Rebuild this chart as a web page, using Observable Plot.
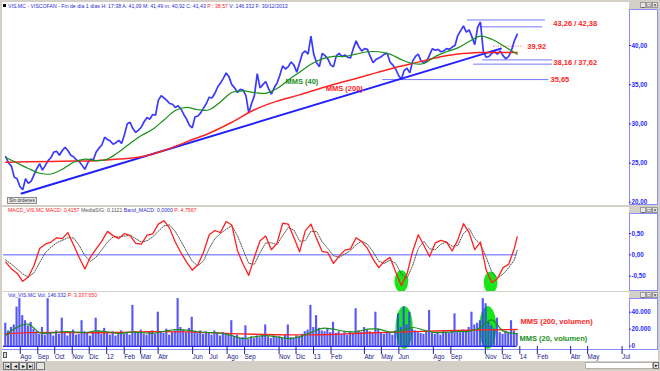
<!DOCTYPE html>
<html><head><meta charset="utf-8">
<script src="https://cdn.jsdelivr.net/npm/d3@7"></script>
<script src="https://cdn.jsdelivr.net/npm/@observablehq/plot@0.6"></script>
<style>
body{margin:0;background:#d4d0c8;}
#c{position:relative;width:660px;height:371px;background:#d4d0c8;overflow:hidden;font-family:'Liberation Sans',Arial,sans-serif;}
#c svg{position:absolute;left:0;}
.t{position:absolute;white-space:nowrap;font-size:5.2px;line-height:6px;}
</style></head><body><div id="c"></div>
<script>
// ---------- DATA ----------
// price closes, one value every 5 calendar days, ending 30/12/2013
const priceClose = [
25.8,25.0,24.6,23.2,23.0,22.0,21.6,23.0,22.4,22.7,
23.5,24.3,24.9,24.1,24.7,25.3,25.7,26.4,26.5,26.0,
26.6,27.0,26.6,26.0,25.8,25.4,25.2,24.7,24.2,25.0,
25.5,25.4,26.4,26.9,27.3,28.3,28.0,27.8,27.4,27.6,
27.9,27.5,28.6,30.0,30.2,29.4,28.9,29.2,29.6,30.3,
30.8,30.6,31.2,31.1,33.0,33.6,33.3,33.0,32.6,32.5,
32.1,32.3,31.9,31.2,30.6,29.8,29.5,30.9,31.0,31.4,
32.0,32.6,33.4,33.3,33.9,34.7,35.2,35.8,36.5,36.0,
35.0,34.6,34.0,34.4,34.3,33.6,31.4,32.6,33.6,36.4,
34.6,35.0,35.4,34.5,33.8,34.6,35.2,36.2,37.4,37.0,
37.3,37.9,37.5,36.6,37.8,39.0,39.3,38.9,41.2,38.9,
37.8,37.3,39.0,38.7,38.3,37.5,37.3,38.7,39.0,38.6,
38.8,38.5,38.4,39.6,40.6,39.8,39.3,39.6,39.5,38.6,
37.8,38.2,38.4,38.6,38.9,39.0,37.9,37.5,37.0,36.2,
35.7,36.8,37.1,36.5,38.0,38.6,38.9,38.0,37.8,38.0,
38.8,39.6,39.4,39.5,39.2,39.3,39.6,39.5,39.8,40.0,
41.3,41.9,42.5,41.7,42.0,41.1,40.1,42.3,43.0,39.3,
38.5,38.6,39.0,39.2,38.9,39.3,38.7,38.3,38.6,39.4,40.6,41.43];
// MMS(40) every 4th point, MMS(200) every 8th point
const mms40 = [25.7,25.0,24.3,23.7,23.6,24.2,25.1,25.5,25.3,25.5,
26.4,27.5,28.5,29.3,30.5,31.7,32.1,31.8,31.8,32.8,
34.0,34.2,34.0,33.9,34.5,35.6,36.6,37.6,38.3,38.6,
38.6,38.9,39.2,39.2,38.9,38.2,37.7,37.7,38.6,39.2,
39.7,40.5,41.2,40.8,40.0,39.1,38.9];
const mms200 = [25.1,25.15,25.2,25.25,25.3,25.5,25.8,26.6,27.7,28.8,30.2,31.8,
32.9,33.7,34.6,35.4,36.2,37.0,37.7,38.4,38.9,39.1,39.1,39.1];
// MACD and signal, every 2nd point
const macdValues = [-0.17,-0.33,-0.43,-0.62,-0.52,-0.25,0.15,0.25,0.30,0.40,
0.38,0.52,0.23,-0.06,-0.33,-0.05,0.14,0.32,0.55,0.45,
0.38,0.50,0.45,0.27,0.25,0.46,0.49,0.72,0.80,0.62,
0.30,0.05,-0.17,-0.36,-0.23,0.06,0.47,0.57,0.52,0.78,
0.70,0.10,-0.22,-0.48,-0.05,0.33,0.44,0.12,0.27,0.74,
0.72,0.40,0.07,0.56,0.72,0.38,0.08,0.05,-0.20,-0.03,
0.11,0.14,0.40,0.31,0.15,-0.10,-0.30,-0.15,-0.06,-0.40,
-0.72,-0.45,0.08,0.47,0.22,-0.04,0.28,0.34,0.30,0.09,
0.35,0.73,0.52,0.12,0.30,-0.35,-0.65,-0.56,-0.30,-0.22,
0.15,0.42];
const signalValues = [-0.12,-0.22,-0.33,-0.45,-0.52,-0.42,-0.18,0.05,0.18,0.28,
0.34,0.40,0.40,0.22,-0.02,-0.15,-0.05,0.12,0.30,0.42,
0.42,0.44,0.46,0.38,0.30,0.33,0.42,0.55,0.68,0.70,
0.55,0.32,0.08,-0.15,-0.26,-0.14,0.15,0.38,0.50,0.60,
0.68,0.45,0.12,-0.20,-0.22,0.05,0.28,0.28,0.24,0.45,
0.64,0.58,0.32,0.33,0.55,0.55,0.30,0.15,-0.02,-0.06,
0.02,0.10,0.24,0.32,0.25,0.07,-0.15,-0.20,-0.12,-0.20,
-0.45,-0.55,-0.25,0.15,0.32,0.14,0.12,0.25,0.30,0.20,
0.22,0.50,0.62,0.38,0.25,-0.05,-0.40,-0.55,-0.45,-0.30,
-0.12,0.11];
// volume (thousands), one value every 5 days
const volumeK = [
27,18,22,25,46,56,36,30,24,28,
20,17,14,22,13,56,15,12,18,14,
33,16,12,15,19,13,14,30,17,15,
12,16,33,18,14,21,16,13,17,12,
15,18,14,16,13,48,17,15,19,14,
13,16,18,14,40,17,15,20,13,16,
18,56,22,19,16,21,34,17,15,18,
14,17,16,13,18,15,12,16,14,13,
30,11,13,9,10,24,8,11,9,12,
10,13,25,11,9,12,10,11,9,13,
25,10,9,12,11,14,17,19,48,22,
36,21,18,17,20,16,28,15,17,14,
16,13,17,15,44,18,16,22,19,17,
15,40,20,16,14,17,15,13,18,38,
22,46,25,40,20,18,16,15,14,17,
42,16,14,15,13,17,16,15,18,38,
17,16,19,18,22,40,25,27,30,56,
50,28,24,20,33,16,14,17,15,30,18,15];
const volMms20K = [12.6,22.4,26,16,15.5,17,17,16,18,17,
15,16.5,16,15,17.5,19.5,19,17,16,15.5,
12.5,9,11,12.5,11,9,11,16,21,20,
17.5,17,20,20,16.5,18,22,19,16,16.5,
17.5,17.5,22,31,18,15,14.8];
const volMms200K = [14.6,16,16.3,16,15.8,16.2,16.8,17.2,16.8,16,14.8,14,
13.5,13.3,13.4,14.5,15.5,16.3,17.2,17.8,18.4,19,19.4,19.6];
// annotations
const levelValues = [43.26, 42.38, 38.16, 37.62, 35.65];
const levelFrom = ["2013-10-03","2013-10-26","2013-10-30","2013-10-14","2013-05-06"];
const levelTo = ["2014-02-18","2014-02-13","2014-03-03","2014-03-03","2014-02-24"];
const pivotValue = 39.92, pivotFrom = "2013-11-18", pivotTo = "2014-01-10";
const levelLabels = ["43,26 / 42,38","39,92","38,16 / 37,62","35,65"];
const levelLabelDates = ["2014-03-04","2014-01-17","2014-03-04","2014-02-27"];
const levelLabelValues = [42.85, 39.92, 37.85, 35.65];
const trendDates = ["2011-08-06","2013-12-01"];
const trendValues = [21.1, 39.6];
const maLabelTexts = ["MMS (40)","MMS (200)"];
const maLabelDates = ["2012-12-14","2013-02-27"];
const maLabelValues = [35.4, 34.55];
const macdMarkDates = ["2013-06-08","2013-11-13"];
const macdMarkValues = [-0.62, -0.65];
const volMarkDates = ["2013-06-13","2013-11-08"];
const volMarkValues = [22000, 22000];
const volLabelTexts = ["MMS (200, volumen)","MMS (20, volumen)"];
const volLabelDates = ["2014-01-05","2014-01-03"];
const volLabelValues = [29000, 9000];
const priceTicks = [20,25,30,35,40];
const macdTicks = [-0.5,0,0.5];
const volTicks = [0,20000,40000];
const monthTickDates = ["2011-08-01","2011-09-01","2011-10-01","2011-11-01","2011-12-01","2012-01-01","2012-02-01","2012-03-01","2012-04-01","2012-06-01","2012-07-01","2012-08-01","2012-09-01","2012-11-01","2012-12-01","2013-01-01","2013-02-01","2013-04-01","2013-05-01","2013-06-01","2013-08-01","2013-09-01","2013-11-01","2013-12-01","2014-01-01","2014-02-01","2014-04-01","2014-05-01","2014-07-01"];
const monthTickLabels = ["Ago","Sep","Oct","Nov","Dic","12","Feb","Mar","Abr","Jun","Jul","Ago","Sep","Nov","Dic","13","Feb","Abr","May","Jun","Ago","Sep","Nov","Dic","14","Feb","Abr","May","Jul"];

// ---------- BUILD ----------
const FONT = "'Liberation Sans', Arial, sans-serif";
const DAY = 864e5;
const N = priceClose.length;
const endDate = Date.UTC(2013, 11, 30);
const dateAt = i => new Date(endDate - (N - 1 - Math.min(i, N - 1)) * 5 * DAY);
const sparse = (vals, step, scale = 1) => vals.map((v, k) => ({date: dateAt(k * step), v: v * scale}));
const xDomain = [new Date("2011-07-05"), new Date("2014-07-15")];
const D = s => new Date(s);

const price = priceClose.map((v, i) => ({date: dateAt(i), v}));
const ma40 = sparse(mms40, 4), ma200 = sparse(mms200, 8);
const macd = sparse(macdValues, 2), signal = sparse(signalValues, 2);
const vol = volumeK.map((v, i) => ({date: dateAt(i), v: v * 1000}));
const vma20 = sparse(volMms20K, 4, 1000), vma200 = sparse(volMms200K, 8, 1000);
const levels = levelValues.map((v, i) => ({v, from: D(levelFrom[i]), to: D(levelTo[i])}));
const pivot = [{v: pivotValue, from: D(pivotFrom), to: D(pivotTo)}];
const lvlLabels = levelLabels.map((t, i) => ({t, date: D(levelLabelDates[i]), v: levelLabelValues[i]}));
const trend = trendDates.map((d, i) => ({date: D(d), v: trendValues[i]}));
const maLabels = maLabelTexts.map((t, i) => ({t, date: D(maLabelDates[i]), v: maLabelValues[i]}));
const macdMarks = macdMarkDates.map((d, i) => ({date: D(d), v: macdMarkValues[i]}));
const volMarks = volMarkDates.map((d, i) => ({date: D(d), v: volMarkValues[i]}));
const volLabels = volLabelTexts.map((t, i) => ({t, date: D(volLabelDates[i]), v: volLabelValues[i]}));
const band = [{v: 0, from: xDomain[0], to: dateAt(N - 1)}];
const monthMap = new Map(monthTickDates.map((d, i) => [+D(d), monthTickLabels[i]]));

function ellipse(ratio) {
  return {draw(ctx, size) {
    const ry = Math.sqrt(size / Math.PI), rx = ry * ratio, k = 0.5523;
    ctx.moveTo(rx, 0);
    ctx.bezierCurveTo(rx, ry * k, rx * k, ry, 0, ry);
    ctx.bezierCurveTo(-rx * k, ry, -rx, ry * k, -rx, 0);
    ctx.bezierCurveTo(-rx, -ry * k, -rx * k, -ry, 0, -ry);
    ctx.bezierCurveTo(rx * k, -ry, rx, -ry * k, rx, 0);
    ctx.closePath();
  }};
}

const root = document.getElementById("c");
function box(l, t, w, h, css = "") {
  const d = document.createElement("div");
  d.style.cssText = `position:absolute;left:${l}px;top:${t}px;width:${w}px;height:${h}px;box-sizing:border-box;${css}`;
  root.appendChild(d); return d;
}
function text(l, t, parts, css = "") {
  const d = document.createElement("div");
  d.className = "t";
  d.style.cssText = `left:${l}px;top:${t}px;${css}`;
  d.innerHTML = parts.map(([s, c]) => `<span style="color:${c}">${s}</span>`).join("");
  root.appendChild(d); return d;
}
function winIcons(top) {
  ["_", "\u25A1", "\u00D7"].forEach((g, i) => {
    const b = box(640 + i * 6, top, 6, 6, "background:#e6e6e6;border:1px solid #9a9a9a;font-size:5px;line-height:4px;text-align:center;color:#000;");
    b.textContent = g;
  });
}
const AXBOX = "background:#fff;border:1px solid #8c8cff;";
// frames
box(2, 2, 627, 203, "background:#fff");
box(629, 9, 29, 196, AXBOX);
box(2, 207, 627, 84, "background:#fff");
box(629, 213, 29, 78, AXBOX);
box(2, 292, 627, 58, "background:#fff");
box(629, 298, 29, 52, AXBOX);
box(2, 350, 656, 11, "background:#fff");
box(2, 349, 627, 1, "background:#8c8cff");
winIcons(2); winIcons(207); winIcons(292);
box(3, 4, 3, 3, "background:#000");
text(8, 3, [["VIS.MC - VISCOFAN - Fin de día 1 días H: 17:38 A: 41,09 M: 41,49 m: 40,92 C: 41,43 ", "#2b2bd6"], ["P : 38,57", "#ff2020"], [" V: 146.332 F: 30/12/2013", "#2b2bd6"]]);
text(8, 207, [["MACD_VIS.MC  MACD: 0,4157  ", "#ff2020"], ["MediaSIG: 0,1121  ", "#555"], ["Band_MACD: 0,0000  ", "#2b2bd6"], ["P: 4,7567", "#ff2020"]]);
text(8, 292, [["Vol_VIS.MC  Vol: 146.332  ", "#2b2bd6"], ["P: 3.337.650", "#ff2020"]]);
const so = box(7, 197, 30, 7, "background:#e8e8e8;border:1px solid #8a8a8a;font-size:4.8px;line-height:5px;color:#333;text-align:center;");
so.textContent = "Sin órdenes";
// navigation buttons and scrollbar
box(3, 352, 4, 6, "background:#ddd;border:1px solid #555");
["|\u25C2", "\u25C2", "\u25B8", "\u25B8|"].forEach((g, i) => {
  const b = box(3 + i * 8, 362, 8, 8, "background:#e4e4e4;border:1px solid #777;font-size:5.5px;line-height:6px;text-align:center;color:#000;");
  b.textContent = g;
});
box(36, 362, 9, 8, "background:#e4e4e4;border:1px solid #777;");
box(585, 362, 68, 7, "background:#fff;border:1px solid #b0b0b0");
const sb = box(653, 362, 6, 7, "background:#e4e4e4;border:1px solid #777;font-size:5px;line-height:5px;text-align:center;");
sb.textContent = "\u25B8";

const GREEN = "#1a8f1a", RED = "#ff2424", BLUE = "#3a3aff", LIME = "#19e619";
const common = {width: 660, marginLeft: 3, marginRight: 32,
  style: {background: "transparent", fontFamily: FONT, fontSize: "6.3px"}};
const fmtPrice = d => d.toFixed(2).replace(".", ",");

// price panel
const pricePlot = Plot.plot({...common, height: 205, marginTop: 9, marginBottom: 0,
  x: {type: "utc", domain: xDomain, axis: null},
  y: {domain: [20, 40], range: [201.7, 45], label: null},
  marks: [
    Plot.ruleY(levels, {y: "v", x1: "from", x2: "to", stroke: "#7676ff", strokeWidth: 1, clip: true}),
    Plot.ruleY(pivot, {y: "v", x1: "from", x2: "to", stroke: "#ff6060", strokeDasharray: "1,1.5", strokeWidth: 1}),
    Plot.line(price, {x: "date", y: "v", stroke: BLUE, strokeWidth: 1.7, strokeLinejoin: "bevel", clip: true}),
    Plot.line(trend, {x: "date", y: "v", stroke: "#2020ff", strokeWidth: 2, clip: true}),
    Plot.line(ma200, {x: "date", y: "v", stroke: RED, strokeWidth: 1.5, curve: "catmull-rom", clip: true}),
    Plot.line(ma40, {x: "date", y: "v", stroke: GREEN, strokeWidth: 1.2, curve: "catmull-rom", clip: true}),
    Plot.text(lvlLabels, {x: "date", y: "v", text: "t", fill: RED, fontWeight: "bold", fontSize: 7.5, textAnchor: "start"}),
    Plot.text(maLabels, {x: "date", y: "v", text: "t", fill: (d, i) => i ? RED : GREEN, fontWeight: "bold", fontSize: 7.5}),
    Plot.axisY({anchor: "right", ticks: priceTicks, tickFormat: fmtPrice, tickSize: 2, tickPadding: 1, color: "#2a2aff", fontWeight: "bold", label: null})
  ]});
pricePlot.style.top = "0px";
root.appendChild(pricePlot);

// MACD panel
const macdPlot = Plot.plot({...common, height: 84, marginTop: 6, marginBottom: 0,
  x: {type: "utc", domain: xDomain, axis: null},
  y: {domain: [-0.5, 0.5], range: [68.7, 26], label: null},
  marks: [
    Plot.dot(macdMarks, {x: "date", y: "v", r: 11, symbol: ellipse(0.62), fill: LIME, stroke: "none", clip: true}),
    Plot.ruleY(band, {y: "v", x1: "from", x2: "to", stroke: "#5a5aff", strokeWidth: 1}),
    Plot.line(signal, {x: "date", y: "v", stroke: "#555", strokeWidth: 1, strokeDasharray: "1.2,1.3", clip: true}),
    Plot.line(macd, {x: "date", y: "v", stroke: "#ff1f1f", strokeWidth: 1.3, clip: true}),
    Plot.axisY({anchor: "right", ticks: macdTicks, tickFormat: fmtPrice, tickSize: 2, tickPadding: 1, color: "#2a2aff", fontWeight: "bold", label: null})
  ]});
macdPlot.style.top = "207px";
root.appendChild(macdPlot);

// volume panel + time axis
const volPlot = Plot.plot({...common, height: 80, marginTop: 7, marginBottom: 21,
  x: {type: "utc", domain: xDomain, label: null},
  y: {domain: [0, 40000], range: [54.7, 20.7], label: null},
  marks: [
    Plot.dot(volMarks, {x: "date", y: "v", r: 21.5, symbol: ellipse(0.4), fill: LIME, stroke: "none", clip: true}),
    Plot.rect(vol, {x1: d => new Date(+d.date - 2.5 * DAY), x2: d => new Date(+d.date + 2.5 * DAY), y1: 0, y2: "v", fill: "#3a3aff", fillOpacity: 0.85, insetLeft: 0.35, insetRight: 0.35, clip: true}),
    Plot.ruleY(band, {y: "v", x1: "from", x2: "to", stroke: "#2a2aee", strokeWidth: 1.5}),
    Plot.line(vma200, {x: "date", y: "v", stroke: RED, strokeWidth: 1.4, curve: "catmull-rom", clip: true}),
    Plot.line(vma20, {x: "date", y: "v", stroke: GREEN, strokeWidth: 1.2, curve: "catmull-rom", clip: true}),
    Plot.text(volLabels, {x: "date", y: "v", text: "t", fill: (d, i) => i ? GREEN : RED, fontWeight: "bold", fontSize: 7.5, textAnchor: "start"}),
    Plot.axisY({anchor: "right", ticks: volTicks, tickFormat: d => d3.format(",")(d).replace(/,/g, "."), tickSize: 2, tickPadding: 1, color: "#2a2aff", fontWeight: "bold", label: null}),
    Plot.axisX({ticks: monthTickDates.map(D), tickFormat: d => monthMap.get(+d), tickSize: 8, tickPadding: 0, textAnchor: "start", dx: 1.5, dy: -4, color: "#20208c", label: null})
  ]});
volPlot.style.top = "291px";
root.appendChild(volPlot);
</script></body></html>
